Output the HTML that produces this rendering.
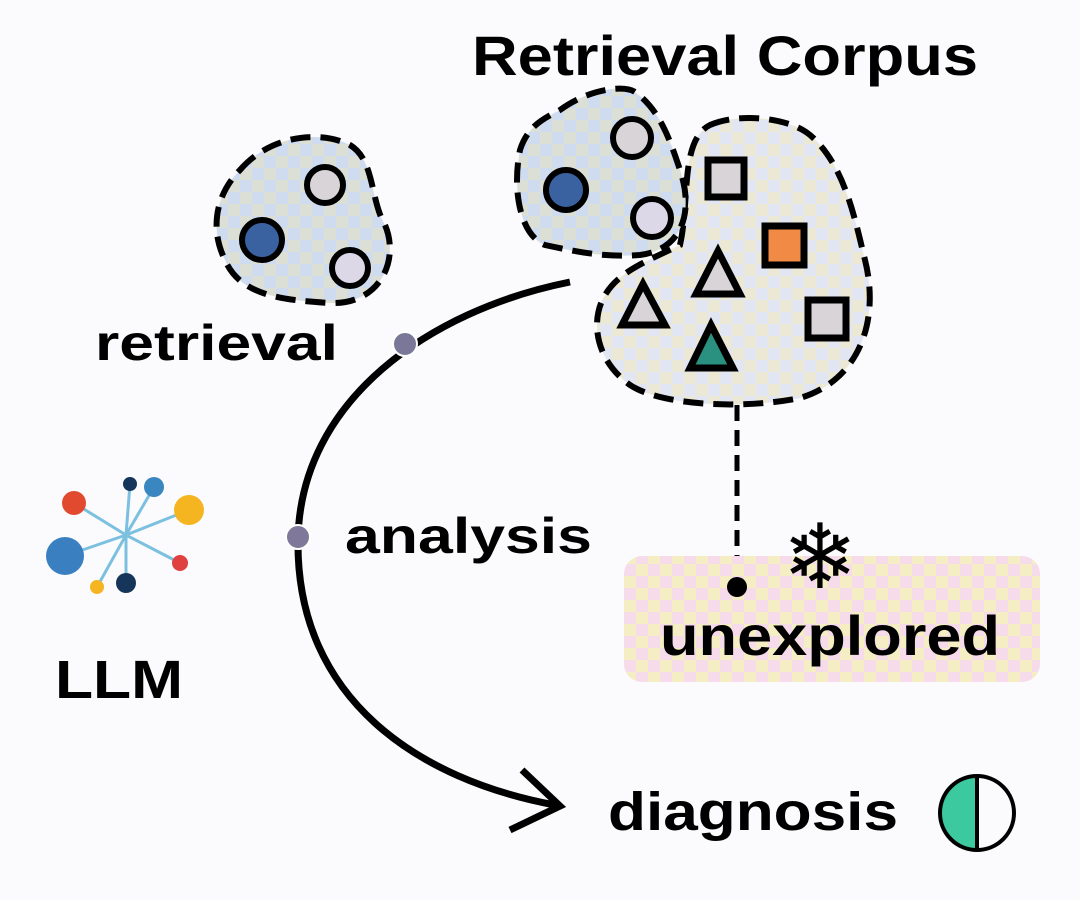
<!DOCTYPE html>
<html><head><meta charset="utf-8"><style>
html,body{margin:0;padding:0;background:#fbfbfd;}
svg{display:block;font-family:"Liberation Sans",Arial,sans-serif;font-weight:bold;}
</style></head><body>
<svg width="1080" height="900" viewBox="0 0 1080 900" xmlns="http://www.w3.org/2000/svg">
<defs>
<pattern id="chk" width="24" height="24" patternUnits="userSpaceOnUse">
<rect width="24" height="24" fill="#e2e5f2"/><rect width="12" height="12" fill="#ebe8d6"/><rect x="12" y="12" width="12" height="12" fill="#ebe8d6"/></pattern>
<pattern id="chkb" width="24" height="24" patternUnits="userSpaceOnUse">
<rect width="24" height="24" fill="#cfdcf0"/><rect width="12" height="12" fill="#dcdfd6"/><rect x="12" y="12" width="12" height="12" fill="#dcdfd6"/></pattern>
<pattern id="chkp" width="24" height="24" patternUnits="userSpaceOnUse">
<rect width="24" height="24" fill="#f6dcea"/><rect width="12" height="12" fill="#f5edc4"/><rect x="12" y="12" width="12" height="12" fill="#f5edc4"/></pattern>
</defs>
<rect width="1080" height="900" fill="#fbfbfd"/>
<text x="472" y="75" font-size="56" textLength="506" lengthAdjust="spacingAndGlyphs">Retrieval Corpus</text>
<!-- left blob -->
<path d="M240,170 C270,135 320,130 350,145 C375,160 370,200 385,225 C400,260 380,305 330,303 C280,300 240,295 225,260 C210,230 215,195 240,170Z" fill="url(#chkb)" stroke="#000" stroke-width="6" stroke-dasharray="20,10"/>
<circle cx="262" cy="240" r="20" fill="#3a62a0" stroke="#000" stroke-width="6"/>
<circle cx="325" cy="185" r="18" fill="#d8d4d8" stroke="#000" stroke-width="6"/>
<circle cx="350" cy="268" r="18" fill="#dcd8e8" stroke="#000" stroke-width="6"/>
<!-- big blob -->
<path d="M710,125 C740,112 790,118 810,135 C845,165 855,220 865,260 C880,320 860,380 800,398 C740,410 660,405 630,385 C595,360 590,320 605,295 C620,270 650,260 680,245 C690,200 680,140 710,125Z" fill="url(#chk)" stroke="#000" stroke-width="6" stroke-dasharray="20,10"/>
<!-- top blob -->
<path d="M560,110 C590,88 625,85 635,92 C660,110 670,140 680,170 C695,215 680,250 640,255 C600,258 570,250 545,245 C520,235 512,190 520,150 C528,125 545,118 560,110Z" fill="url(#chkb)" stroke="#000" stroke-width="6" stroke-dasharray="20,10"/>
<circle cx="566" cy="190" r="20" fill="#3a62a0" stroke="#000" stroke-width="6"/>
<circle cx="632" cy="138" r="19" fill="#d8d4d8" stroke="#000" stroke-width="6"/>
<circle cx="652" cy="218" r="19" fill="#dcd8e8" stroke="#000" stroke-width="6"/>
<rect x="708" y="160" width="36" height="37" fill="#d8d4d8" stroke="#000" stroke-width="7"/>
<rect x="765" y="226" width="39" height="39" fill="#f08a45" stroke="#000" stroke-width="7"/>
<rect x="808" y="300" width="38" height="38" fill="#d8d4d8" stroke="#000" stroke-width="7"/>
<polygon points="718,251 696,294 740,294" fill="#d8d4d8" stroke="#000" stroke-width="7"/>
<polygon points="643,284 622,325 665,325" fill="#d8d4d8" stroke="#000" stroke-width="7"/>
<polygon points="711,325 690,368 733,368" fill="#2a9080" stroke="#000" stroke-width="7"/>
<!-- curve -->
<path d="M570,282 C430,310 300,400 298,540 C296,700 420,780 555,805" fill="none" stroke="#000" stroke-width="7"/>
<path d="M522,770 L560,806 L510,830" fill="none" stroke="#000" stroke-width="7"/>
<circle cx="405" cy="344" r="12" fill="#7a7898" stroke="#fff" stroke-width="2"/>
<circle cx="298" cy="537" r="12" fill="#80789a" stroke="#fff" stroke-width="2"/>
<text x="95" y="360" font-size="50" textLength="243" lengthAdjust="spacingAndGlyphs">retrieval</text>
<text x="345" y="553" font-size="50" textLength="247" lengthAdjust="spacingAndGlyphs">analysis</text>
<!-- LLM icon -->
<g stroke="#7cc0e0" stroke-width="3">
<line x1="126" y1="535" x2="130" y2="484"/><line x1="126" y1="535" x2="154" y2="487"/><line x1="126" y1="535" x2="189" y2="510"/><line x1="126" y1="535" x2="74" y2="503"/><line x1="126" y1="535" x2="65" y2="556"/><line x1="126" y1="535" x2="180" y2="563"/><line x1="126" y1="535" x2="97" y2="587"/><line x1="126" y1="535" x2="126" y2="583"/>
</g>
<circle cx="130" cy="484" r="7" fill="#15365a"/>
<circle cx="154" cy="487" r="10" fill="#3a86c0"/>
<circle cx="189" cy="510" r="15" fill="#f5b520"/>
<circle cx="74" cy="503" r="12" fill="#e24a30"/>
<circle cx="65" cy="556" r="19" fill="#3a80c0"/>
<circle cx="180" cy="563" r="8" fill="#e04040"/>
<circle cx="97" cy="587" r="7" fill="#f5b520"/>
<circle cx="126" cy="583" r="10" fill="#15365a"/>
<text x="55" y="698" font-size="54" textLength="128" lengthAdjust="spacingAndGlyphs">LLM</text>
<!-- unexplored -->
<line x1="737" y1="405" x2="737" y2="587" stroke="#000" stroke-width="5" stroke-dasharray="16,9"/>
<rect x="624" y="556" width="416" height="126" rx="18" fill="url(#chkp)"/>
<circle cx="737" cy="587" r="10" fill="#000"/>
<text x="820" y="588" font-size="90" font-weight="normal" text-anchor="middle" font-family="DejaVu Sans">❄</text>
<text x="660" y="655" font-size="56" textLength="340" lengthAdjust="spacingAndGlyphs">unexplored</text>
<!-- diagnosis -->
<text x="608" y="830" font-size="54" textLength="290" lengthAdjust="spacingAndGlyphs">diagnosis</text>
<path d="M977,776 A37,37 0 0 0 977,850 Z" fill="#3cc9a0"/>
<circle cx="977" cy="813" r="37" fill="none" stroke="#000" stroke-width="4"/>
<line x1="977" y1="776" x2="977" y2="850" stroke="#000" stroke-width="4"/>
</svg>
</body></html>
